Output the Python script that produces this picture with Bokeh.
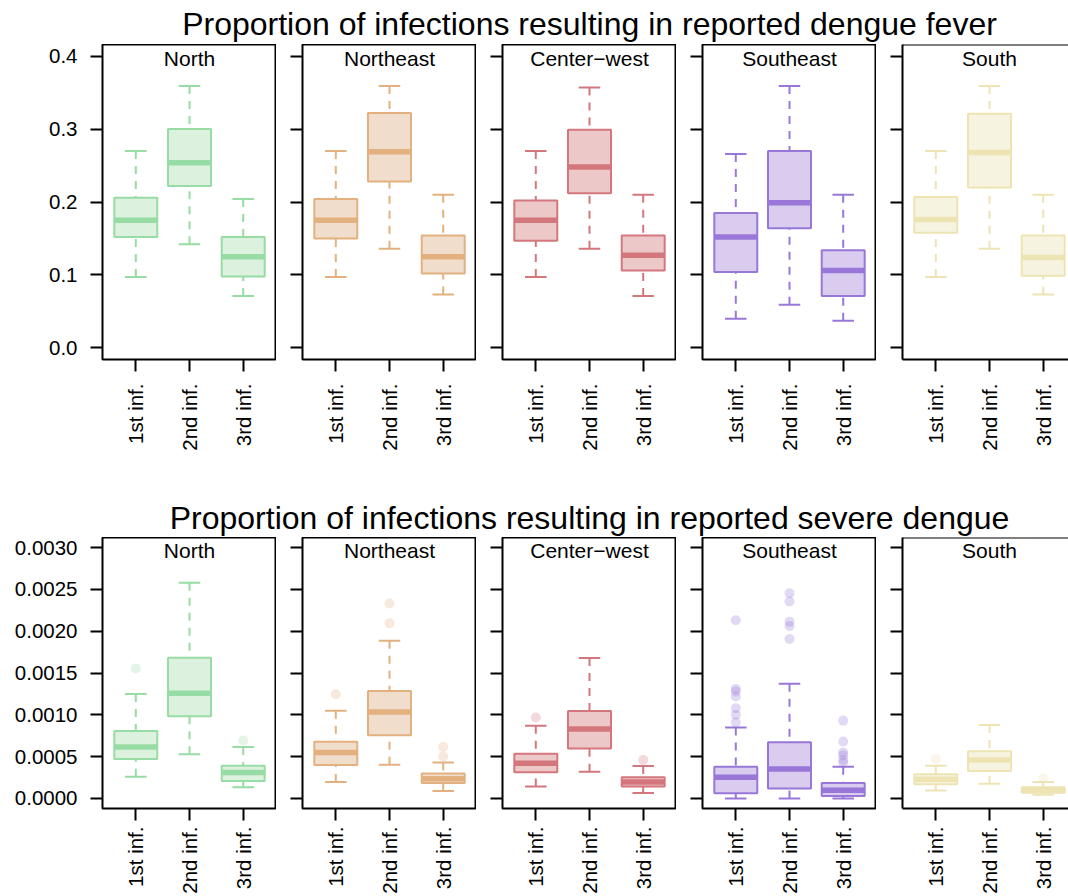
import math

from bokeh.embed import file_html
from bokeh.layouts import column, row
from bokeh.models import (ColumnDataSource, FixedTicker, Label,
                          PrintfTickFormatter, Range1d, Span)
from bokeh.plotting import figure
from bokeh.resources import INLINE

# ---------------------------------------------------------------- data
regions = ["North", "Northeast", "Center\u2212west", "Southeast", "South"]
infections = ["1st inf.", "2nd inf.", "3rd inf."]

line_colors = ["#96DCA4", "#E2B17F", "#D4777C", "#9877D8", "#EEE4B3"]
fill_colors = ["#DDF1DF", "#F1DDCC", "#EDC8C9", "#D9CCEE", "#F6F4E1"]

# reported dengue fever: whisker ends, quartiles and median per region x infection
fever_lo = [[0.097, 0.142, 0.071], [0.097, 0.136, 0.073], [0.097, 0.136, 0.071],
            [0.040, 0.059, 0.037], [0.097, 0.136, 0.073]]
fever_q1 = [[0.152, 0.222, 0.098], [0.150, 0.228, 0.102], [0.147, 0.212, 0.106],
            [0.104, 0.164, 0.071], [0.158, 0.220, 0.099]]
fever_med = [[0.175, 0.254, 0.125], [0.175, 0.269, 0.125], [0.175, 0.248, 0.127],
             [0.152, 0.199, 0.106], [0.176, 0.268, 0.124]]
fever_q3 = [[0.206, 0.300, 0.152], [0.204, 0.322, 0.154], [0.202, 0.299, 0.154],
            [0.185, 0.270, 0.134], [0.207, 0.321, 0.154]]
fever_hi = [[0.270, 0.359, 0.204], [0.270, 0.359, 0.210], [0.270, 0.357, 0.210],
            [0.266, 0.359, 0.210], [0.270, 0.359, 0.210]]
fever_out = [[[], [], []] for _ in regions]

# reported severe dengue
severe_lo = [[0.00026, 0.00053, 0.000135], [0.000196, 0.000404, 0.00009],
             [0.000143, 0.000318, 0.000065], [0.0, 0.0, 0.0],
             [0.000094, 0.000176, 0.000045]]
severe_q1 = [[0.000473, 0.000984, 0.000208], [0.0004, 0.000755, 0.000184],
             [0.000314, 0.000596, 0.000143], [0.000061, 0.000118, 0.000029],
             [0.000171, 0.000327, 0.000069]]
severe_med = [[0.000616, 0.001257, 0.00031], [0.000551, 0.001033, 0.000237],
              [0.00042, 0.000829, 0.000196], [0.000253, 0.000351, 0.000098],
              [0.000229, 0.000461, 0.000102]]
severe_q3 = [[0.000808, 0.001682, 0.000392], [0.000678, 0.001286, 0.000298],
             [0.000535, 0.001045, 0.000253], [0.00038, 0.000673, 0.000184],
             [0.00029, 0.000563, 0.000135]]
severe_hi = [[0.001249, 0.00258, 0.000616], [0.001049, 0.001886, 0.000429],
             [0.000869, 0.001678, 0.000388], [0.000849, 0.001371, 0.00038],
             [0.000392, 0.000878, 0.000196]]
severe_out = [
    [[0.001555], [], [0.000694]],
    [[0.001245], [0.002331, 0.002094], [0.000616, 0.000502]],
    [[0.000967], [], [0.000461]],
    [[0.00213, 0.00131, 0.00128, 0.00122, 0.00108, 0.001, 0.00091],
     [0.002453, 0.002355, 0.002114, 0.002061, 0.001906],
     [0.000931, 0.000682, 0.000551, 0.000518, 0.000461, 0.000429]],
    [[0.000473], [], [0.000237]],
]

fever_ticks = [0.0, 0.1, 0.2, 0.3, 0.4]
severe_ticks = [0.0, 0.0005, 0.001, 0.0015, 0.002, 0.0025, 0.003]

fever_title = "Proportion of infections resulting in reported dengue fever"
severe_title = "Proportion of infections resulting in reported severe dengue"

# ---------------------------------------------------------------- layout
FONT = "Liberation Sans"
FS = "20.5px"
WINDOW_W = 1068
FRAME_W = 174
GAP = 26
LEFT_FIRST = 102
X_START, X_END = 0.38, 3.62
BOX_W = 0.8
CAP_W = 0.4
xs = list(range(1, len(infections) + 1))


def style_axis(ax):
    ax.major_tick_out = 12
    ax.major_tick_in = 0
    ax.minor_tick_line_color = None
    ax.major_tick_line_color = "black"
    ax.major_tick_line_width = 2
    ax.axis_line_color = None
    ax.major_label_text_font = FONT
    ax.major_label_text_font_size = FS
    ax.major_label_text_color = "black"


def make_panel(k, lo, q1, med, q3, hi, outliers, yr, yticks, yfmt,
               frame_h, top_border, bottom_border, label_gap):
    first = k == 0
    last = k == len(regions) - 1
    left = LEFT_FIRST if first else GAP
    if last:
        fw = WINDOW_W - LEFT_FIRST - FRAME_W - (len(regions) - 2) * (GAP + FRAME_W) - GAP
    else:
        fw = FRAME_W
    x_end = X_START + (X_END - X_START) * fw / FRAME_W

    p = figure(width=left + fw, height=top_border + frame_h + bottom_border,
               x_range=Range1d(X_START, x_end), y_range=Range1d(*yr),
               output_backend="svg", toolbar_location=None,
               min_border_left=left, min_border_right=0,
               min_border_top=top_border, min_border_bottom=bottom_border)
    p.xgrid.visible = False
    p.ygrid.visible = False
    p.background_fill_color = "white"
    p.border_fill_color = "white"

    lc, fc = line_colors[k], fill_colors[k]
    src = ColumnDataSource(dict(
        x=xs, lo=lo, q1=q1, med=med, q3=q3, hi=hi,
        bx0=[x - BOX_W / 2 for x in xs], bx1=[x + BOX_W / 2 for x in xs],
        cx0=[x - CAP_W / 2 for x in xs], cx1=[x + CAP_W / 2 for x in xs],
    ))
    # dashed whiskers from the staples to the box
    p.segment("x", "hi", "x", "q3", source=src, line_color=lc, line_width=2,
              line_dash="8 7")
    p.segment("x", "lo", "x", "q1", source=src, line_color=lc, line_width=2,
              line_dash="8 7")
    p.segment("cx0", "hi", "cx1", "hi", source=src, line_color=lc, line_width=2)
    p.segment("cx0", "lo", "cx1", "lo", source=src, line_color=lc, line_width=2)
    p.vbar(x="x", width=BOX_W, bottom="q1", top="q3", source=src,
           fill_color=fc, line_color=lc, line_width=2)
    p.segment("bx0", "med", "bx1", "med", source=src, line_color=lc,
              line_width=5.5, line_cap="butt")

    ox = [xs[j] for j, vals in enumerate(outliers) for _ in vals]
    oy = [v for vals in outliers for v in vals]
    if ox:
        p.scatter(ox, oy, size=10, fill_color=lc, fill_alpha=0.28, line_color=None)

    # region strip label inside the top of the panel
    px_per_unit = frame_h / (yr[1] - yr[0])
    p.add_layout(Label(x=(X_START + X_END) / 2, y=yr[1] - 13.5 / px_per_unit,
                       text=regions[k], text_align="center", text_baseline="middle",
                       text_font=FONT, text_font_size="21px", text_color="black"))

    xa = p.xaxis[0]
    style_axis(xa)
    xa.ticker = FixedTicker(ticks=xs)
    xa.major_label_overrides = {x: lab for x, lab in zip(xs, infections)}
    xa.major_label_orientation = math.pi / 2
    xa.major_label_standoff = label_gap

    ya = p.yaxis[0]
    style_axis(ya)
    ya.ticker = FixedTicker(ticks=yticks)
    if first:
        ya.formatter = PrintfTickFormatter(format=yfmt)
        ya.major_label_standoff = 13
    else:
        ya.major_label_overrides = {t: "" for t in yticks}
        ya.major_label_standoff = 0

    if last:
        # the panel runs off the right edge: draw left, bottom and top borders only
        p.outline_line_color = None
        xa.axis_line_color = "black"
        xa.axis_line_width = 2
        ya.axis_line_color = "black"
        ya.axis_line_width = 2
        p.add_layout(Span(location=yr[1], dimension="width",
                          line_color="black", line_width=2))
    else:
        p.outline_line_color = "black"
        p.outline_line_width = 2
    return p


def make_title(text, height, middle_from_bottom):
    t = figure(width=WINDOW_W, height=height, x_range=Range1d(0, WINDOW_W),
               y_range=Range1d(0, height), output_backend="svg",
               toolbar_location=None, min_border=0)
    t.axis.visible = False
    t.grid.visible = False
    t.outline_line_color = None
    centre = LEFT_FIRST + (len(regions) * FRAME_W + (len(regions) - 1) * GAP) / 2
    t.add_layout(Label(x=centre, y=middle_from_bottom, text=text,
                       text_align="center", text_baseline="middle",
                       text_font=FONT, text_font_size="32px", text_color="black"))
    return t


fever_row = row(*[
    make_panel(k, fever_lo[k], fever_q1[k], fever_med[k], fever_q3[k], fever_hi[k],
               fever_out[k], (-0.016, 0.416), fever_ticks, "%.1f", 315, 0, 120, 12)
    for k in range(len(regions))
], spacing=0)

severe_row = row(*[
    make_panel(k, severe_lo[k], severe_q1[k], severe_med[k], severe_q3[k], severe_hi[k],
               severe_out[k], (-0.00012, 0.00312), severe_ticks, "%.4f", 273, 0, 86, 6)
    for k in range(len(regions))
], spacing=0)

layout = column(make_title(fever_title, 44, 21), fever_row,
                make_title(severe_title, 58, 20), severe_row, spacing=0)

open("out.html", "w").write(file_html(layout, INLINE))
